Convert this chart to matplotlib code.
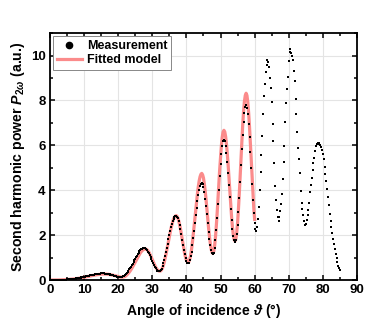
import numpy as np
import matplotlib
matplotlib.use("Agg")
import matplotlib.pyplot as plt
from matplotlib.ticker import MultipleLocator

plt.rcParams['font.family'] = ['Liberation Sans', 'DejaVu Sans']
plt.rcParams['font.weight'] = 'bold'
plt.rcParams['mathtext.fontset'] = 'custom'
plt.rcParams['mathtext.rm'] = 'Liberation Sans:bold'
plt.rcParams['mathtext.it'] = 'Liberation Sans:italic:bold'
plt.rcParams['mathtext.bf'] = 'Liberation Sans:bold'

# measurement, 0..85 deg in 0.25 deg steps (one row per degree)
meas_y = [
    0.000, 0.000, 0.000, 0.001,
    0.001, 0.001, 0.002, 0.002,
    0.003, 0.004, 0.005, 0.006,
    0.007, 0.008, 0.010, 0.012,
    0.014, 0.016, 0.018, 0.021,
    0.024, 0.027, 0.030, 0.034,
    0.038, 0.042, 0.046, 0.051,
    0.056, 0.061, 0.067, 0.073,
    0.082, 0.089, 0.097, 0.104,
    0.112, 0.120, 0.128, 0.137,
    0.145, 0.153, 0.162, 0.171,   # 10
    0.180, 0.189, 0.198, 0.207,
    0.216, 0.224, 0.232, 0.239,
    0.245, 0.253, 0.261, 0.268,
    0.275, 0.281, 0.286, 0.290,
    0.293, 0.294, 0.294, 0.292,
    0.289, 0.285, 0.280, 0.274,
    0.267, 0.259, 0.250, 0.240,
    0.230, 0.219, 0.208, 0.197,
    0.186, 0.175, 0.164, 0.154,
    0.146, 0.140, 0.137, 0.138,   # 20
    0.144, 0.156, 0.174, 0.198,
    0.23, 0.27, 0.31, 0.36,
    0.41, 0.47, 0.53, 0.59,
    0.66, 0.73, 0.80, 0.87,
    0.95, 1.02, 1.09, 1.16,
    1.22, 1.28, 1.33, 1.37,
    1.40, 1.43, 1.44, 1.43,
    1.41, 1.37, 1.32, 1.26,
    1.19, 1.11, 1.02, 0.93,
    0.84, 0.75, 0.67, 0.59,       # 30
    0.52, 0.46, 0.42, 0.39,
    0.38, 0.395, 0.44, 0.51,
    0.61, 0.74, 0.89, 1.05,
    1.23, 1.42, 1.615, 1.81,
    2.00, 2.18, 2.34, 2.49,
    2.62, 2.72, 2.79, 2.835,
    2.85, 2.82, 2.745, 2.62,
    2.455, 2.27, 2.03, 1.80,
    1.57, 1.33, 1.145, 0.98,
    0.855, 0.776, 0.75, 0.78,     # 40
    0.89, 1.05, 1.27, 1.54,
    1.85, 2.19, 2.535, 2.88,
    3.22, 3.53, 3.80, 4.02,
    4.18, 4.285, 4.32, 4.27,
    4.14, 3.92, 3.63, 3.30,
    2.92, 2.54, 2.16, 1.83,
    1.54, 1.32, 1.19, 1.14,
    1.21, 1.43, 1.78, 2.24,
    2.78, 3.39, 4.00, 4.615,
    5.15, 5.61, 5.96, 6.18,       # 50
    6.25, 6.18, 5.99, 5.68,
    5.27, 4.79, 4.25, 3.70,
    3.16, 2.68, 2.27, 1.96,
    1.77, 1.70, 1.79, 2.05,
    2.46, 3.01, 3.65, 4.37,
    5.11, 5.83, 6.47, 7.02,
    7.43, 7.69, 7.78, 7.68,
    7.40, 6.96, 6.38, 5.70,
    4.98, 4.26, 3.58, 3.00,
    2.56, 2.28, 2.18, 2.35,       # 60
    2.70, 3.25, 4.00, 4.80,
    5.55, 6.40, 7.40, 8.20,
    8.75, 9.28, 9.60, 9.80,
    9.72, 9.50, 9.00, 8.55,
    7.92, 6.95, 6.19, 5.20,
    4.20, 3.58, 3.13, 2.80,
    2.62, 2.82, 3.08, 3.40,
    3.84, 4.52, 5.27, 5.95,
    7.02, 7.90, 8.51, 9.05,
    9.75, 10.15, 10.27, 10.10,    # 70
    9.98, 9.78, 9.30, 8.85,
    8.05, 7.40, 6.60, 5.90,
    5.40, 4.75, 3.95, 3.45,
    3.15, 2.88, 2.62, 2.46,
    2.50, 2.68, 2.88, 3.12,
    3.45, 3.90, 4.25, 4.55,
    4.92, 5.20, 5.45, 5.73,
    5.95, 6.05, 6.09, 6.10,
    6.07, 6.02, 5.93, 5.80,
    5.60, 5.38, 5.05, 4.72,       # 80
    4.43, 4.05, 3.72, 3.33,
    2.95, 2.65, 2.34, 2.08,
    1.83, 1.60, 1.36, 1.16,
    0.96, 0.80, 0.64, 0.52,
    0.45,
]
meas_x = np.arange(len(meas_y)) * 0.25

# fitted model, 0..60 deg in 0.25 deg steps
fit_y = [
    0.000, 0.000, 0.000, 0.001,
    0.001, 0.001, 0.001, 0.002,
    0.002, 0.003, 0.004, 0.005,
    0.006, 0.007, 0.008, 0.010,
    0.011, 0.013, 0.015, 0.017,
    0.020, 0.022, 0.025, 0.028,
    0.032, 0.035, 0.039, 0.043,
    0.047, 0.052, 0.057, 0.062,
    0.068, 0.074, 0.080, 0.087,
    0.094, 0.101, 0.108, 0.116,
    0.124, 0.132, 0.140, 0.148,   # 10
    0.156, 0.164, 0.172, 0.180,
    0.188, 0.196, 0.204, 0.211,
    0.218, 0.225, 0.232, 0.238,
    0.244, 0.249, 0.254, 0.258,
    0.262, 0.265, 0.267, 0.268,
    0.268, 0.267, 0.265, 0.262,
    0.258, 0.253, 0.247, 0.240,
    0.232, 0.224, 0.215, 0.205,
    0.195, 0.185, 0.174, 0.164,
    0.154, 0.145, 0.137, 0.131,   # 20
    0.128, 0.128, 0.133, 0.143,
    0.160, 0.185, 0.22, 0.26,
    0.30, 0.35, 0.40, 0.46,
    0.52, 0.59, 0.66, 0.73,
    0.80, 0.88, 0.95, 1.02,
    1.09, 1.15, 1.21, 1.26,
    1.30, 1.34, 1.36, 1.38,
    1.38, 1.37, 1.34, 1.30,
    1.24, 1.17, 1.09, 1.00,
    0.91, 0.82, 0.73, 0.65,       # 30
    0.57, 0.51, 0.46, 0.42,
    0.40, 0.395, 0.41, 0.46,
    0.54, 0.655, 0.79, 0.955,
    1.135, 1.33, 1.53, 1.73,
    1.94, 2.13, 2.31, 2.47,
    2.61, 2.72, 2.80, 2.85,
    2.87, 2.84, 2.765, 2.64,
    2.48, 2.29, 2.06, 1.83,
    1.59, 1.36, 1.17, 1.01,
    0.885, 0.806, 0.78, 0.82,     # 40
    0.93, 1.11, 1.36, 1.66,
    2.01, 2.38, 2.765, 3.15,
    3.52, 3.87, 4.17, 4.42,
    4.60, 4.71, 4.75, 4.69,
    4.55, 4.30, 3.98, 3.61,
    3.18, 2.75, 2.32, 1.95,
    1.63, 1.38, 1.23, 1.18,
    1.26, 1.49, 1.87, 2.37,
    2.94, 3.60, 4.25, 4.91,
    5.48, 5.98, 6.36, 6.59,       # 50
    6.67, 6.60, 6.39, 6.05,
    5.60, 5.09, 4.50, 3.90,
    3.31, 2.80, 2.35, 2.01,
    1.80, 1.73, 1.83, 2.11,
    2.55, 3.15, 3.84, 4.63,
    5.42, 6.21, 6.90, 7.50,
    7.95, 8.22, 8.32, 8.22,
    7.92, 7.44, 6.82, 6.09,
    5.32, 4.54, 3.81, 3.20,
    2.70,
]
fit_x = np.arange(len(fit_y)) * 0.25

fig = plt.figure(figsize=(3.81, 3.31), dpi=100)
ax = fig.add_axes([0.131, 0.154, 0.806, 0.746])

ax.plot(fit_x, fit_y, color='#fb7f7f', lw=2.3, alpha=0.9, label='Fitted model', zorder=2)
ax.plot(meas_x, meas_y, 's', color='black', ms=2.0, mew=0, label='Measurement', zorder=3)

ax.set_xlim(0, 90)
ax.set_ylim(0, 11)
ax.xaxis.set_major_locator(MultipleLocator(10))
ax.xaxis.set_minor_locator(MultipleLocator(5))
ax.yaxis.set_major_locator(MultipleLocator(2))
ax.yaxis.set_minor_locator(MultipleLocator(1))
ax.grid(True, which='major', color='#e4e4e4', lw=0.8, zorder=0)
ax.set_axisbelow(True)
ax.tick_params(which='both', direction='in', top=True, right=True, width=1.1, labelsize=9.5, pad=3)
ax.tick_params(which='major', length=3.5)
ax.tick_params(which='minor', length=2)
for s in ax.spines.values():
    s.set_linewidth(1.3)

ax.set_xlabel(r'Angle of incidence $\vartheta$ (°)', fontsize=10, fontweight='bold', labelpad=4)
ax.set_ylabel(r'Second harmonic power $P_{2\omega}$ (a.u.)', fontsize=10.2, fontweight='bold', labelpad=3)

h, l = ax.get_legend_handles_labels()
meas_handle = plt.Line2D([], [], marker='o', ls='none', color='black', ms=4.5)
leg = ax.legend([meas_handle, h[0]], [l[1], l[0]], loc='upper left', fontsize=9, frameon=True,
                fancybox=False, edgecolor='#888888', framealpha=1, borderpad=0.3,
                handlelength=2.0, handletextpad=0.4, labelspacing=0.2,
                borderaxespad=0.25)
leg.get_frame().set_linewidth(0.7)

fig.savefig('out.png', dpi=100)
